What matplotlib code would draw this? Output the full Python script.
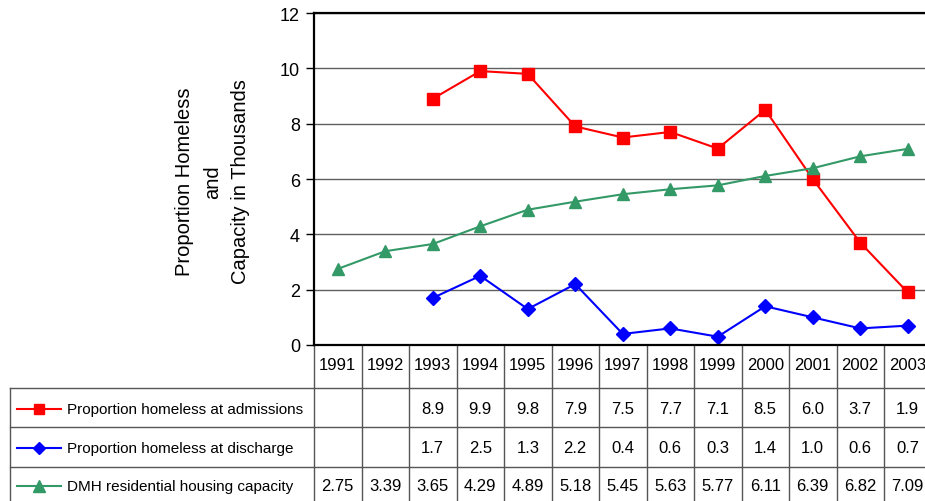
import matplotlib
matplotlib.use("Agg")
import matplotlib.pyplot as plt
import matplotlib.transforms as mtransforms
from matplotlib import font_manager
from matplotlib.lines import Line2D

years = ["1991", "1992", "1993", "1994", "1995", "1996", "1997",
         "1998", "1999", "2000", "2001", "2002", "2003"]
admissions = [None, None, 8.9, 9.9, 9.8, 7.9, 7.5, 7.7, 7.1, 8.5, 6.0, 3.7, 1.9]
discharge = [None, None, 1.7, 2.5, 1.3, 2.2, 0.4, 0.6, 0.3, 1.4, 1.0, 0.6, 0.7]
capacity = [2.75, 3.39, 3.65, 4.29, 4.89, 5.18, 5.45, 5.63, 5.77, 6.11, 6.39, 6.82, 7.09]
cap_labels = ["2.75", "3.39", "3.65", "4.29", "4.89", "5.18", "5.45",
              "5.63", "5.77", "6.11", "6.39", "6.82", "7.09"]

names = ["Proportion homeless at admissions",
         "Proportion homeless at discharge",
         "DMH residential housing capacity"]

available = {f.name for f in font_manager.fontManager.ttflist}
font = "Liberation Sans Narrow" if "Liberation Sans Narrow" in available else "Liberation Sans"
plt.rcParams["font.family"] = [font, "DejaVu Sans"]

W, H = 925, 502
fig = plt.figure(figsize=(W / 100, H / 100), dpi=100)

def fx(x):
    return x / W

def fy(y):
    return 1 - y / H

# plot area in pixels: left 314, top 14, bottom 346, 13 columns of 47.5 px
left, top, bottom, colw = 314, 14, 346, 47.5
ax = fig.add_axes([fx(left), fy(bottom), colw * 13 / W, (bottom - top) / H])

x = list(range(len(years)))
ax.set_xlim(-0.5, 12.5)
ax.set_ylim(0, 12)
ax.set_yticks(range(0, 13, 2))
ax.set_xticks([])
ax.grid(axis="y", color="#606060", lw=1)
ax.set_axisbelow(True)
for s in ["top", "bottom", "left"]:
    ax.spines[s].set_linewidth(1.6)
ax.spines["right"].set_visible(False)
ax.tick_params(axis="y", labelsize=13, length=6, width=1, pad=4)

def xy(vals):
    pts = [(i, v) for i, v in zip(x, vals) if v is not None]
    return [p[0] for p in pts], [p[1] for p in pts]

styles = [
    dict(color="#ff0000", marker="s", ms=8),
    dict(color="#0000ff", marker="D", ms=7),
    dict(color="#339966", marker="^", ms=9),
]
series = [admissions, discharge, capacity]
for vals, st in zip(series, styles):
    xs, ys = xy(vals)
    ax.plot(xs, ys, color=st["color"], lw=1.5, marker=st["marker"],
            ms=st["ms"], mfc=st["color"], mec=st["color"], clip_on=False)

fig.text(fx(213), fy(182), "Proportion Homeless\nand\nCapacity in Thousands",
         rotation=90, ha="center", va="center", fontsize=14.5, linespacing=1.6)

# data table below the plot
trans = mtransforms.blended_transform_factory(ax.transData, fig.transFigure)
row_lines = [389, 428, 468]
row_mid = [410, 449, 487]
head_mid = 366
grid_col = "#555555"

for i in range(len(years) + 1):
    ax.plot([i - 0.5, i - 0.5], [fy(bottom), fy(H + 5)], color=grid_col, lw=1,
            transform=trans, clip_on=False)
for i, yr in enumerate(years):
    ax.text(i, fy(head_mid), yr, transform=trans, ha="center", va="center", fontsize=12)

fig.add_artist(Line2D([fx(10), fx(10)], [fy(row_lines[0]), fy(H + 5)], color=grid_col, lw=1))
for yl in row_lines:
    fig.add_artist(Line2D([fx(10), 1], [fy(yl), fy(yl)], color=grid_col, lw=1))

row_text = [
    ["" if v is None else f"{v:.1f}" for v in admissions],
    ["" if v is None else f"{v:.1f}" for v in discharge],
    cap_labels,
]
for r, (name, st, labels) in enumerate(zip(names, styles, row_text)):
    ym = fy(row_mid[r])
    fig.add_artist(Line2D([fx(17), fx(61)], [ym, ym], color=st["color"], lw=1.5))
    fig.add_artist(Line2D([fx(39)], [ym], color=st["color"], marker=st["marker"],
                          ms=st["ms"] - 1, mfc=st["color"], mec=st["color"], lw=0))
    fig.text(fx(67), ym, name, ha="left", va="center", fontsize=11)
    for i, lab in enumerate(labels):
        ax.text(i, ym, lab, transform=trans, ha="center", va="center", fontsize=12)

fig.savefig("out.png", dpi=100)
